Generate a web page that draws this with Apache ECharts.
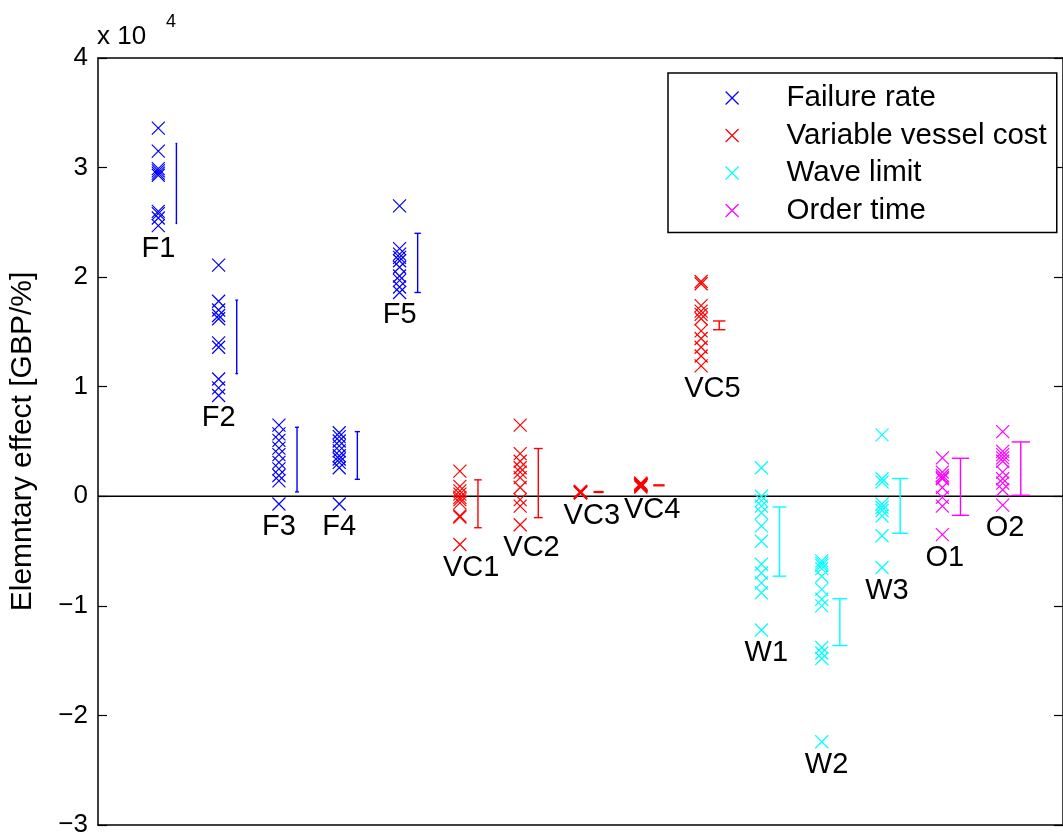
<!DOCTYPE html>
<html>
<head>
<meta charset="utf-8">
<script src="https://cdn.jsdelivr.net/npm/echarts@6/dist/echarts.min.js"></script>
<style>html,body{margin:0;padding:0;background:#fff;}#c{width:1063px;height:840px;}</style>
</head>
<body>
<div id="c"></div>
<script>
// ---- data ----
const seriesNames = ['Failure rate', 'Variable vessel cost', 'Wave limit', 'Order time'];
const seriesColors = ['#0000ff', '#ff0000', '#00ffff', '#ff00ff'];
const groupNames = ['F1','F2','F3','F4','F5','VC1','VC2','VC3','VC4','VC5','W1','W2','W3','O1','O2'];
const groupX = [1,2,3,4,5,6,7,8,9,10,11,12,13,14,15];
const groupFactor = [0,0,0,0,0,1,1,1,1,1,2,2,2,3,3];

const F1 = [33600, 31500, 29900, 29700, 29500, 29300, 26000, 25800, 25400, 24700];
const F2 = [21100, 17800, 17000, 16500, 16200, 14000, 13600, 10700, 9900, 9200];
const F3 = [6500, 5700, 5100, 4400, 3800, 3100, 2500, 1900, 1400, -700];
const F4 = [5800, 5450, 5050, 4600, 4150, 3700, 3400, 3100, 2600, -700];
const F5 = [26500, 22600, 22100, 21800, 21500, 20900, 20100, 19700, 19100, 18600];
const VC1 = [2300, 900, 500, 200, -100, -300, -600, -1800, -1900, -4400];
const VC2 = [6500, 3900, 3200, 2600, 2200, 1700, 800, -300, -900, -2600];
const VC3 = [450, 400, 380, 350, 330, 300, 400, 360, 420, 320];
const VC4 = [1200, 1100, 1050, 1000, 950, 850, 1150, 1000, 1080, 980];
const VC5 = [19600, 19400, 17400, 16900, 16600, 16200, 15100, 14400, 13600, 12800, 11900];
const W1 = [2600, 0, -400, -900, -1500, -2700, -4100, -6200, -7000, -7900, -8800, -12200];
const W2 = [-5900, -6100, -6300, -6600, -7300, -8500, -9400, -10000, -13800, -14300, -14800, -22400];
const W3 = [5600, 1600, 1300, -700, -1000, -1300, -1800, -3600, -6500];
const O1 = [3500, 2200, 1900, 1700, 1600, 800, -100, -900, -3500];
const O2 = [5900, 4100, 3800, 3500, 3200, 2200, 1600, 1200, 600, -800];
const groupValues = [F1, F2, F3, F4, F5, VC1, VC2, VC3, VC4, VC5, W1, W2, W3, O1, O2];

// error bar ends
const barLow  = [24900, 11200, 400, 1550, 18600, -2870, -1950, 350, 960, 15200, -7290, -13620, -3380, -1740, 90];
const barHigh = [32200, 17900, 6300, 5900, 24000, 1500, 4360, 430, 1040, 16000, -980, -9350, 1620, 3470, 4960];

const yTicks = [-30000, -20000, -10000, 0, 10000, 20000, 30000, 40000];

// ---- options ----
const FONT = 'Liberation Sans, Arial, Helvetica, sans-serif';
const crossPath = 'path://M0,0L10,10M10,0L0,10';
const barOffset = 0.3, labelOffset = -0.28, labelDrop = 2100;

const scatterSeries = seriesNames.map((name, si) => {
  const data = [];
  groupValues.forEach((vals, g) => {
    if (groupFactor[g] === si) vals.forEach(v => data.push([groupX[g], v]));
  });
  return {
    name, type: 'scatter', data,
    symbol: crossPath, symbolSize: 13,
    itemStyle: { color: seriesColors[si], borderColor: seriesColors[si], borderWidth: 1.2, opacity: 1 },
    emphasis: { disabled: true },
    z: 3
  };
});

const barData = groupX.map((x, g) => [x + barOffset, barLow[g], barHigh[g], groupFactor[g]]);
const labelData = groupX.map((x, g) => [x + labelOffset, Math.min(...groupValues[g]) - labelDrop, g]);

const frameAxis = (pos) => ({
  type: 'value', min: 0, max: 16, position: pos,
  axisLine: { show: true, onZero: false, lineStyle: { color: '#000', width: 1.5 } },
  axisTick: { show: false }, axisLabel: { show: false }, splitLine: { show: false }
});

const option = {
  animation: false,
  backgroundColor: '#fff',
  grid: { left: 98, top: 58, width: 973, height: 767, containLabel: false },
  xAxis: [frameAxis('bottom'), frameAxis('top')],
  yAxis: [
    { type: 'value', min: yTicks[0], max: yTicks[yTicks.length - 1], interval: 10000, position: 'left',
      name: 'Elemntary effect [GBP/%]', nameLocation: 'middle', nameGap: 60,
      nameTextStyle: { fontSize: 30, color: '#000', fontFamily: FONT },
      axisLine: { show: true, onZero: false, lineStyle: { color: '#000', width: 1.5 } },
      axisTick: { show: true, inside: true, length: 9, lineStyle: { color: '#000', width: 1.2 } },
      axisLabel: { fontSize: 26, color: '#000', fontFamily: FONT, margin: 10,
        formatter: v => (v < 0 ? '\u2212' + Math.abs(v / 1e4) : String(v / 1e4)) },
      splitLine: { show: false } },
    { type: 'value', min: yTicks[0], max: yTicks[yTicks.length - 1], interval: 10000, position: 'right',
      axisLine: { show: true, onZero: false, lineStyle: { color: '#000', width: 1.5 } },
      axisTick: { show: true, inside: true, length: 9, lineStyle: { color: '#000', width: 1.2 } },
      axisLabel: { show: false }, splitLine: { show: false } }
  ],
  legend: {
    data: seriesNames,
    orient: 'vertical',
    left: 668, top: 73,
    padding: [10, 10, 7, 57],
    itemGap: 7.5,
    itemWidth: 13, itemHeight: 13,
    icon: crossPath,
    itemStyle: { borderWidth: 1.2 },
    backgroundColor: '#fff',
    borderColor: '#000', borderWidth: 1.5, borderRadius: 0,
    textStyle: { fontSize: 29.5, color: '#000', fontFamily: FONT, padding: [0, 0, 0, 43] },
    selectedMode: false
  },
  graphic: [
    { type: 'text', left: 97, top: 24, style: { text: 'x 10', fontSize: 26, fontFamily: FONT, fill: '#000' } },
    { type: 'text', left: 166, top: 13, style: { text: '4', fontSize: 18, fontFamily: FONT, fill: '#000' } }
  ],
  series: [
    ...scatterSeries,
    { type: 'line', data: [[0, 0], [16, 0]], symbol: 'none', silent: true,
      lineStyle: { color: '#000', width: 1.5 }, z: 1 },
    { type: 'custom', data: barData, silent: true, z: 2,
      renderItem: (params, api) => {
        const x = api.value(0), lo = api.value(1), hi = api.value(2);
        const col = seriesColors[api.value(3)];
        const pT = api.coord([x, hi]), pB = api.coord([x, lo]);
        const hw = api.size([0.01 * x, 0])[0];
        const st = { stroke: col, lineWidth: 1.4 };
        return { type: 'group', children: [
          { type: 'line', shape: { x1: pT[0], y1: pT[1], x2: pB[0], y2: pB[1] }, style: st },
          { type: 'line', shape: { x1: pT[0] - hw, y1: pT[1], x2: pT[0] + hw, y2: pT[1] }, style: st },
          { type: 'line', shape: { x1: pB[0] - hw, y1: pB[1], x2: pB[0] + hw, y2: pB[1] }, style: st }
        ] };
      } },
    { type: 'custom', data: labelData, silent: true, z: 4, clip: false,
      renderItem: (params, api) => {
        const p = api.coord([api.value(0), api.value(1)]);
        return { type: 'text', style: { x: p[0], y: p[1], text: groupNames[api.value(2)],
          fontSize: 29, fontFamily: FONT, fill: '#000', align: 'left', verticalAlign: 'middle' } };
      } }
  ]
};

const chart = echarts.init(document.getElementById('c'), null, { renderer: 'canvas' });
chart.setOption(option);
</script>
</body>
</html>
